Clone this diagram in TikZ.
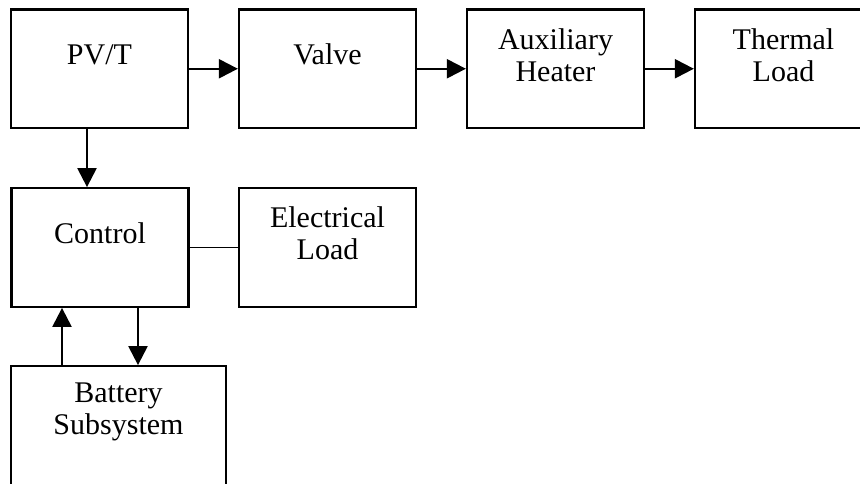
\documentclass[tikz,border=0pt]{standalone}
\usepackage{fontspec}
\setmainfont{Liberation Serif}
\usetikzlibrary{arrows.meta}

\begin{document}
\begin{tikzpicture}[
    x=1pt, y=-1pt,
    block/.style = {rectangle, draw=black, line width=2.3pt, minimum width=177pt, minimum height=118.5pt, inner sep=0pt},
    wideblock/.style = {block, minimum width=215pt},
    txt/.style = {font=\fontsize{30}{32}\selectfont, align=center, yshift=14pt},
    line/.style = {draw=black, line width=2.3pt, -{Triangle[length=19pt,width=19pt]}},
    link/.style = {draw=black, line width=1.8pt}
]
    \clip (0,0) rectangle (860,483);

    % Top Row
    \node [block, label={[txt]center:PV/T}] (pvt) at (99.5,68.75) {};
    \node [block, label={[txt]center:Valve}] (valve) at (327.5,68.75) {};
    \node [block, label={[txt]center:Auxiliary\\Heater}] (heater) at (555.5,68.75) {};
    \node [block, label={[txt]center:Thermal\\Load}] (thermal) at (783.5,68.75) {};

    % Middle Row
    \node [block, label={[txt]center:Control}] (control) at (100,247.5) {};
    \node [block, label={[txt]center:Electrical\\Load}] (elec) at (327.5,247.5) {};

    % Bottom Row
    \node [wideblock, label={[txt]center:Battery\\Subsystem}] (battery) at (118.5,425.5) {};

    % Arrows - Top
    \draw [line] (pvt) -- (valve);
    \draw [line] (valve) -- (heater);
    \draw [line] (heater) -- (thermal);

    % Arrows - Down
    \draw [line] ([xshift=-12.5pt]pvt.south) -- ([xshift=-12.5pt]pvt.south |- control.north);
    \draw [link] (control) -- (elec);

    % Arrows - Battery
    \draw [line] ([xshift=-56.5pt]battery.north) -- ([xshift=-56.5pt]battery.north |- control.south);
    \draw [line] ([xshift=38pt]control.south) -- ([xshift=38pt]control.south |- battery.north);
\end{tikzpicture}
\end{document}
